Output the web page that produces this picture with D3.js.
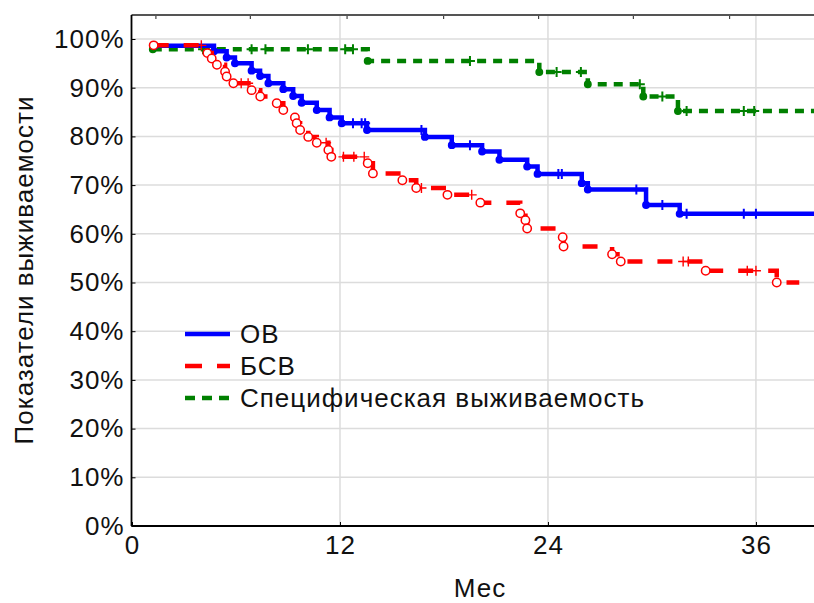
<!DOCTYPE html>
<html>
<head>
<meta charset="utf-8">
<script src="https://cdn.jsdelivr.net/npm/d3@7"></script>
<style>
  html, body { margin: 0; padding: 0; background: #fff; }
  svg { display: block; }
  text { font-family: "Liberation Sans", Arial, sans-serif; fill: #111; letter-spacing: 1px; }
</style>
</head>
<body>
<div id="chart"></div>
<script>
// Kaplan–Meier survival curves: event times (months) and survival level (%) after each event

// ОВ — overall survival
const ovTime = [1.3, 4.73, 5.46, 5.94, 6.9, 7.39, 7.87, 8.73, 9.3, 9.79, 10.66, 11.4, 12.1, 13.56, 16.9, 18.45, 20.2, 21.2, 22.8, 23.4, 25.95, 26.3, 29.66, 31.6];
const ovSurv = [98.6, 97.5, 96.2, 95.0, 93.5, 92.4, 90.9, 89.7, 88.3, 86.9, 85.4, 83.9, 82.7, 81.3, 79.9, 78.2, 76.9, 75.2, 73.8, 72.3, 70.4, 69.1, 65.9, 64.1];
const ovEnd = 39.4;
const ovCensored = [12.75, 13.25, 13.45, 16.7, 19.5, 24.6, 24.8, 29.1, 30.6, 32.0, 35.3, 36.0];

// БСВ — disease-free survival
const bsvTime = [1.25, 4.35, 4.6, 4.9, 5.37, 5.46, 5.85, 6.9, 7.4, 8.35, 8.73, 9.4, 9.5, 9.7, 10.17, 10.66, 11.33, 11.5, 13.6, 13.9, 15.6, 16.4, 18.2, 20.1, 22.4, 22.7, 22.8, 24.85, 24.9, 27.7, 28.2, 33.1, 37.2];
const bsvSurv = [98.7, 97.1, 96.0, 94.7, 93.3, 92.3, 90.9, 89.5, 88.2, 86.8, 85.4, 83.9, 82.7, 81.3, 79.9, 78.7, 77.2, 75.8, 74.5, 72.4, 71.0, 69.4, 68.0, 66.4, 64.2, 62.8, 61.1, 59.3, 57.4, 55.8, 54.3, 52.4, 50.0];
const bsvEnd = 38.5;
const bsvCensored = [4.0, 6.3, 6.7, 11.2, 12.2, 12.8, 13.4, 16.7, 19.6, 31.8, 32.1, 35.5, 36.0];

// Специфическая выживаемость — cancer-specific survival
const specTime = [1.2, 13.6, 23.5, 26.3, 29.5, 31.5];
const specSurv = [97.9, 95.5, 93.2, 90.7, 88.2, 85.2];
const specEnd = 39.4;
const specCensored = [4.1, 6.9, 7.7, 10.15, 12.3, 12.75, 19.5, 24.5, 25.9, 29.3, 30.6, 32.0, 35.3, 35.9];

// Axis ticks
const xTicks = [0, 12, 24, 36];
const yTicks = [0, 10, 20, 30, 40, 50, 60, 70, 80, 90, 100];
const topTicks = [1.35, 6.8, 12.38, 17.95, 23.43, 28.9, 34.45];

const legendLabels = ["ОВ", "БСВ", "Специфическая выживаемость"];

const W = 814, H = 603;
const M = { left: 131.5, right: 814, top: 15, bottom: 526 };
const FS = 26;

const svg = d3.select("#chart").append("svg").attr("width", W).attr("height", H);

const x = d3.scaleLinear().domain([0, 39.35]).range([132, 814]);
const y = d3.scaleLinear().domain([0, 100]).range([526, 39]);

// grid
const grid = svg.append("g");
grid.selectAll("line.h").data(yTicks.filter(d => d > 0)).join("line")
  .attr("x1", M.left).attr("x2", M.right)
  .attr("y1", d => y(d)).attr("y2", d => y(d))
  .attr("stroke", "#dcdcdc").attr("stroke-width", 1.5);
grid.selectAll("line.v").data(xTicks.filter(d => d > 0)).join("line")
  .attr("x1", d => x(d)).attr("x2", d => x(d))
  .attr("y1", M.top).attr("y2", M.bottom)
  .attr("stroke", "#dcdcdc").attr("stroke-width", 1.5);

// frame top with minor ticks
const topAxis = d3.axisTop(x).tickValues(topTicks).tickSizeInner(-4).tickSizeOuter(0).tickFormat("");
const gTop = svg.append("g").attr("transform", `translate(0,${M.top})`).call(topAxis);
gTop.select(".domain").remove();
gTop.selectAll(".tick line").attr("stroke", "#444").attr("stroke-width", 1.2);
svg.append("line").attr("x1", M.left).attr("x2", M.right).attr("y1", M.top).attr("y2", M.top)
  .attr("stroke", "#555").attr("stroke-width", 1.8);

// axes
const xAxis = d3.axisBottom(x).tickValues(xTicks).tickSizeInner(-4).tickSizeOuter(0).tickPadding(10);
const gx = svg.append("g").attr("transform", `translate(0,${M.bottom})`).call(xAxis);
gx.select(".domain").attr("d", `M${M.left},0H${M.right}`).attr("stroke", "#000").attr("stroke-width", 1.8);
gx.selectAll(".tick line").attr("stroke", "#000");
gx.selectAll(".tick text").attr("font-size", FS).attr("font-family", "Liberation Sans, Arial, sans-serif").attr("fill", "#111");

const yAxis = d3.axisLeft(y).tickValues(yTicks).tickSizeInner(-4).tickSizeOuter(0).tickPadding(7).tickFormat(d => d + "%");
const gy = svg.append("g").attr("transform", `translate(${M.left},0)`).call(yAxis);
gy.select(".domain").attr("d", `M0,${M.top}V${M.bottom}`).attr("stroke", "#000").attr("stroke-width", 1.8);
gy.selectAll(".tick line").attr("stroke", "#000");
gy.selectAll(".tick text").attr("font-size", FS).attr("font-family", "Liberation Sans, Arial, sans-serif").attr("fill", "#111");

// titles
svg.append("text").attr("x", 480).attr("y", 597).attr("text-anchor", "middle")
  .attr("font-size", FS).text("Мес");
svg.append("text").attr("transform", `translate(33,270) rotate(-90)`).attr("text-anchor", "middle")
  .attr("font-size", FS).text("Показатели выживаемости");

// curves
const series = [
  { t: ovTime, s: ovSurv, end: ovEnd, cens: ovCensored, color: "#0000ff", width: 4.5, dash: null, mark: "dot" },
  { t: bsvTime, s: bsvSurv, end: bsvEnd, cens: bsvCensored, color: "#ff0000", width: 4.5, dash: "15,15", mark: "ring" },
  { t: specTime, s: specSurv, end: specEnd, cens: specCensored, color: "#008000", width: 4.5, dash: "9,7", mark: "dot" }
];

const line = d3.line().x(d => x(d[0])).y(d => y(d[1])).curve(d3.curveStepAfter);

function levelAt(sr, t) {
  const i = d3.bisectRight(sr.t, t) - 1;
  return sr.s[Math.max(0, i)];
}

// draw in back-to-front order: green, blue, red
[series[2], series[0], series[1]].forEach(sr => {
  const pts = sr.t.map((t, i) => [t, sr.s[i]]);
  pts.push([sr.end, sr.s[sr.s.length - 1]]);
  const g = svg.append("g");
  g.append("path").attr("d", line(pts)).attr("fill", "none")
    .attr("stroke", sr.color).attr("stroke-width", sr.width)
    .attr("stroke-dasharray", sr.dash);

  // censored observations
  g.selectAll("path.c").data(sr.cens).join("path")
    .attr("d", d => {
      const cx = x(d), cy = y(levelAt(sr, d));
      return `M${cx},${cy - 5}V${cy + 5}M${cx - 5},${cy}H${cx + 5}`;
    })
    .attr("stroke", sr.color).attr("stroke-width", sr.mark === "ring" ? 1.4 : 2);

  // events
  g.selectAll("circle").data(pts.slice(0, -1)).join("circle")
    .attr("cx", d => x(d[0])).attr("cy", d => y(d[1]))
    .attr("r", sr.mark === "ring" ? 4.2 : 3.2)
    .attr("fill", sr.mark === "ring" ? "#fff" : sr.color)
    .attr("stroke", sr.color).attr("stroke-width", 1.5);
});

// legend
const legendColors = ["#0000ff", "#ff0000", "#008000"];
const legendDash = [null, "17,15", "10,7"];
const legendY = [334, 366, 398];
const lg = svg.append("g");
legendLabels.forEach((lab, i) => {
  lg.append("line").attr("x1", 185).attr("x2", 230).attr("y1", legendY[i]).attr("y2", legendY[i])
    .attr("stroke", legendColors[i]).attr("stroke-width", 4.5).attr("stroke-dasharray", legendDash[i]);
  lg.append("text").attr("x", 240).attr("y", legendY[i]).attr("dy", "0.36em")
    .attr("font-size", FS).text(lab);
});
</script>
</body>
</html>
